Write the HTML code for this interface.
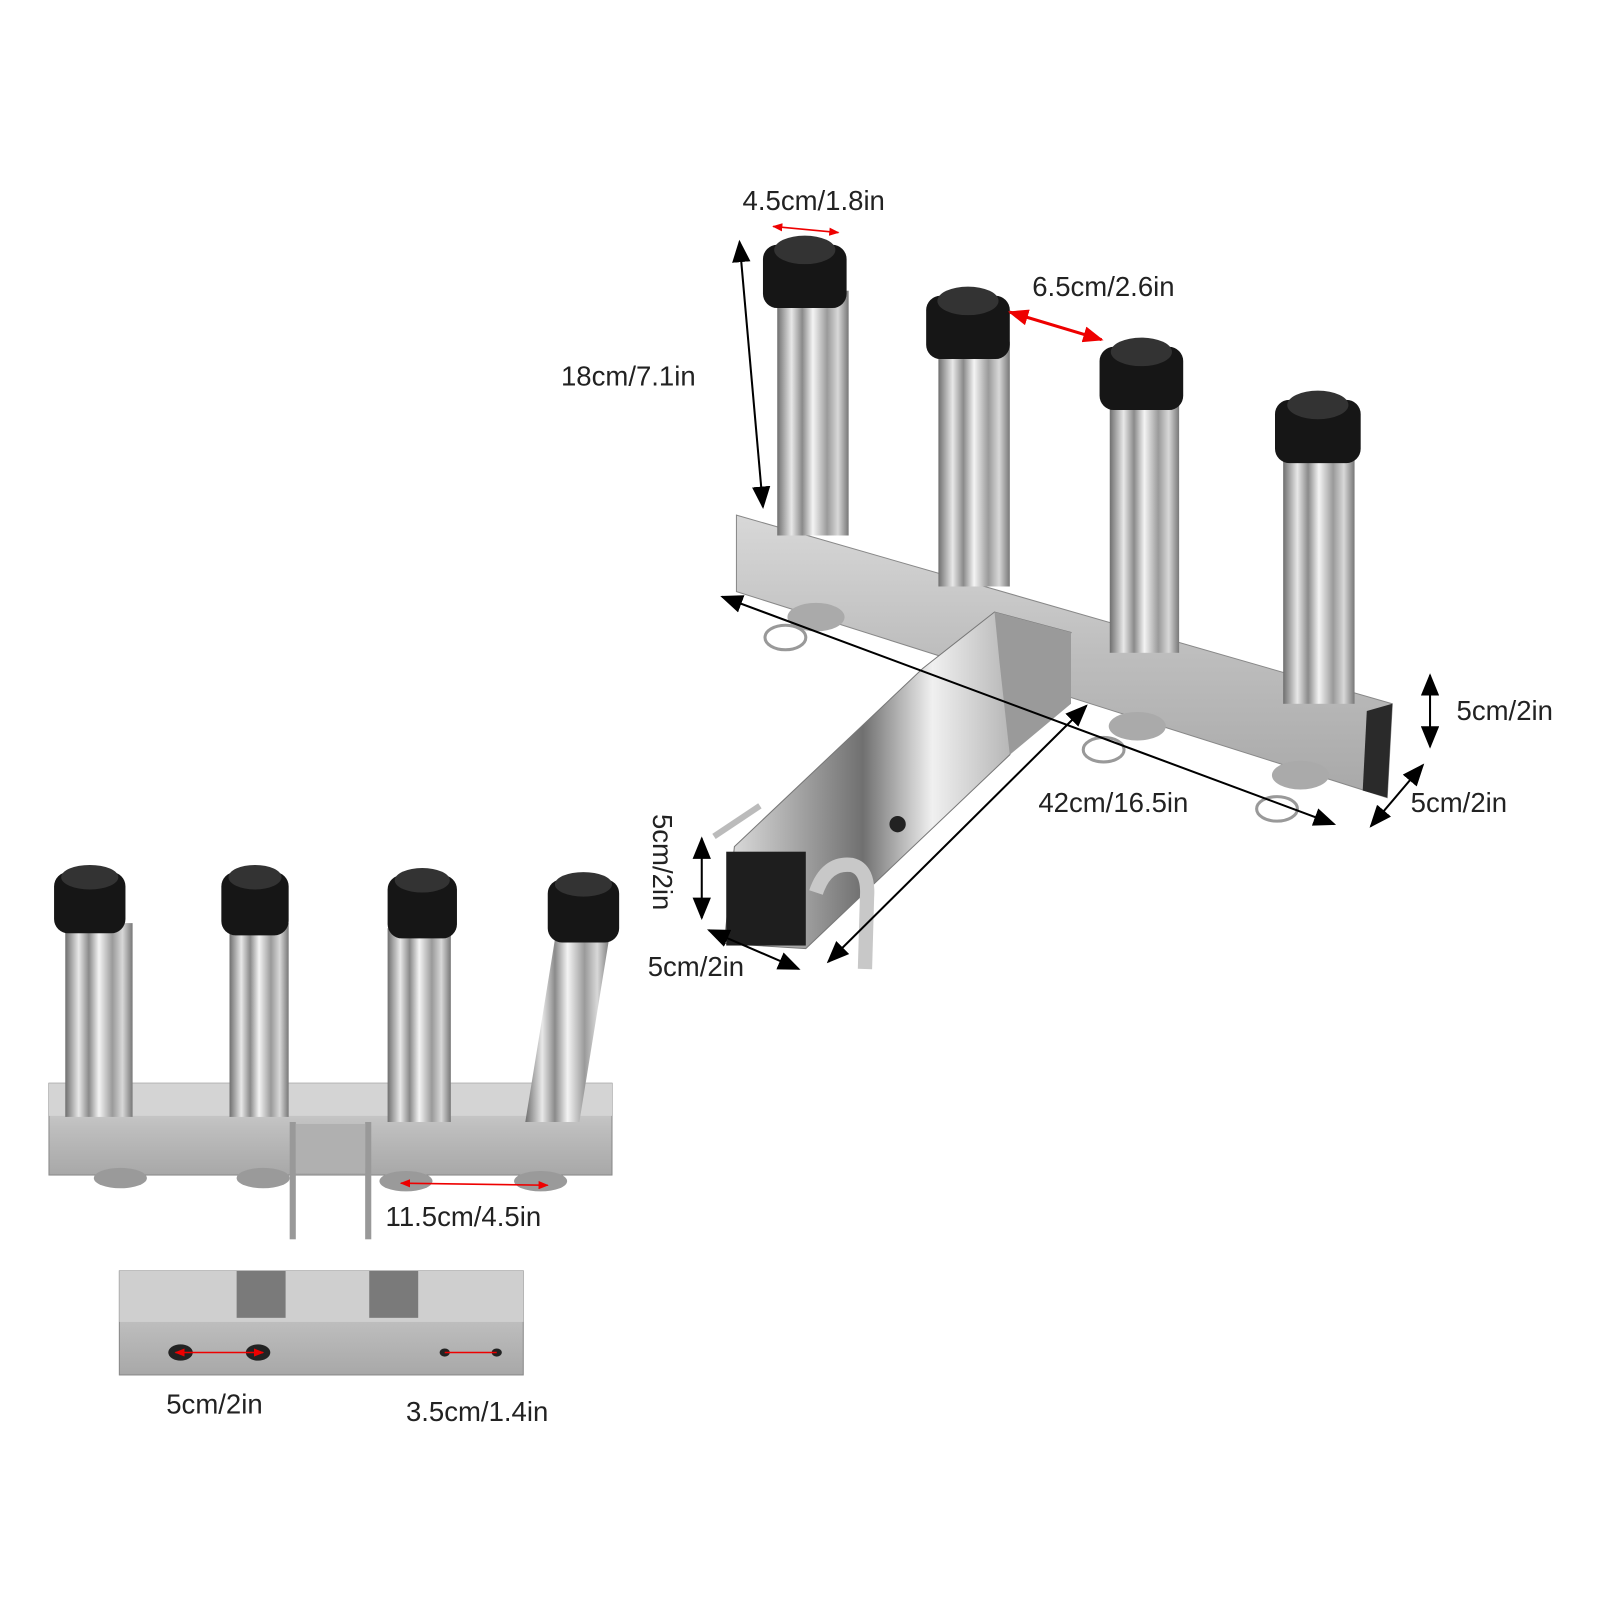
<!DOCTYPE html>
<html><head><meta charset="utf-8"><style>
html,body{margin:0;padding:0;background:#fff}
svg{display:block}
text{font-family:"Liberation Sans",sans-serif;font-size:27px;fill:#222}
</style></head><body>
<svg width="1601" height="1601" viewBox="0 0 1601 1601" xmlns="http://www.w3.org/2000/svg">
<defs>
<linearGradient id="tube" x1="0" x2="1" y1="0" y2="0">
<stop offset="0" stop-color="#6f6f6f"/><stop offset="0.2" stop-color="#e8e8e8"/><stop offset="0.35" stop-color="#8a8a8a"/><stop offset="0.5" stop-color="#f4f4f4"/><stop offset="0.7" stop-color="#9a9a9a"/><stop offset="0.85" stop-color="#d8d8d8"/><stop offset="1" stop-color="#777"/>
</linearGradient>
<linearGradient id="bar" x1="0" x2="0" y1="0" y2="1">
<stop offset="0" stop-color="#d8d8d8"/><stop offset="0.5" stop-color="#bdbdbd"/><stop offset="1" stop-color="#a8a8a8"/>
</linearGradient>
<linearGradient id="hitch" x1="0" x2="1" y1="0" y2="0">
<stop offset="0" stop-color="#e0e0e0"/><stop offset="0.4" stop-color="#707070"/><stop offset="0.6" stop-color="#f0f0f0"/><stop offset="1" stop-color="#8a8a8a"/>
</linearGradient>
<marker id="abig" markerWidth="22" markerHeight="18" refX="20" refY="9" orient="auto-start-reverse" markerUnits="userSpaceOnUse"><path d="M0,0 L22,9 L0,18z" fill="#000"/></marker>
<marker id="ar" markerWidth="20" markerHeight="16" refX="18" refY="8" orient="auto-start-reverse" markerUnits="userSpaceOnUse"><path d="M0,0 L20,8 L0,16z" fill="#e00"/></marker>
<marker id="ars" markerWidth="10" markerHeight="8" refX="9" refY="4" orient="auto-start-reverse" markerUnits="userSpaceOnUse"><path d="M0,0 L10,4 L0,8z" fill="#e00"/></marker>
</defs>
<g transform="scale(1.02)">
<polygon points="722,505 1365,690 1360,782 722,580" fill="url(#bar)" stroke="#888"/>
<polygon points="1340,697 1365,690 1360,782 1336,775" fill="#2a2a2a"/>
<ellipse cx="800" cy="605" rx="28" ry="14" fill="#aaa"/>
<ellipse cx="1115" cy="712" rx="28" ry="14" fill="#aaa"/>
<ellipse cx="1275" cy="760" rx="28" ry="14" fill="#aaa"/>
<g fill="none" stroke="#999" stroke-width="3">
<ellipse cx="770" cy="625" rx="20" ry="12"/><ellipse cx="1082" cy="735" rx="20" ry="12"/><ellipse cx="1252" cy="793" rx="20" ry="12"/>
</g>
<rect x="762" y="285" width="70" height="240" fill="url(#tube)"/>
<rect x="920" y="335" width="70" height="240" fill="url(#tube)"/>
<rect x="1088" y="385" width="68" height="255" fill="url(#tube)"/>
<rect x="1258" y="435" width="70" height="255" fill="url(#tube)"/>
<g fill="#161616">
<rect x="748" y="240" width="82" height="62" rx="14"/><rect x="908" y="290" width="82" height="62" rx="14"/>
<rect x="1078" y="340" width="82" height="62" rx="14"/><rect x="1250" y="392" width="84" height="62" rx="14"/>
</g>
<g fill="#333"><ellipse cx="789" cy="245" rx="30" ry="14"/><ellipse cx="949" cy="295" rx="30" ry="14"/><ellipse cx="1119" cy="345" rx="30" ry="14"/><ellipse cx="1292" cy="397" rx="30" ry="14"/></g>
<polygon points="905,655 975,600 1050,620 990,740 790,930 710,925 720,830" fill="url(#hitch)" stroke="#777"/>
<polygon points="975,600 1050,620 1050,690 990,740 980,650" fill="#9a9a9a"/>
<rect x="712" y="835" width="78" height="92" fill="#1e1e1e"/>
<circle cx="880" cy="808" r="8" fill="#222"/>
<path d="M800,875 Q810,845 835,848 Q852,852 850,880 L848,950" fill="none" stroke="#c8c8c8" stroke-width="14"/>
<path d="M700,820 L745,790" stroke="#bbb" stroke-width="6"/>

<line x1="758" y1="222" x2="822" y2="228" stroke="#e00" stroke-width="1.5" marker-start="url(#ars)" marker-end="url(#ars)"/>
<line x1="990" y1="306" x2="1080" y2="333" stroke="#e00" stroke-width="3" marker-start="url(#ar)" marker-end="url(#ar)"/>
<line x1="725" y1="237" x2="748" y2="497" stroke="#000" stroke-width="2" marker-start="url(#abig)" marker-end="url(#abig)"/>
<line x1="708" y1="585" x2="1308" y2="808" stroke="#000" stroke-width="2" marker-start="url(#abig)" marker-end="url(#abig)"/>
<line x1="812" y1="943" x2="1065" y2="692" stroke="#000" stroke-width="2" marker-start="url(#abig)" marker-end="url(#abig)"/>
<line x1="1402" y1="662" x2="1402" y2="732" stroke="#000" stroke-width="2" marker-start="url(#abig)" marker-end="url(#abig)"/>
<line x1="1344" y1="810" x2="1395" y2="750" stroke="#000" stroke-width="2" marker-start="url(#abig)" marker-end="url(#abig)"/>
<line x1="688" y1="822" x2="688" y2="900" stroke="#000" stroke-width="2" marker-start="url(#abig)" marker-end="url(#abig)"/>
<line x1="695" y1="912" x2="783" y2="950" stroke="#000" stroke-width="2" marker-start="url(#abig)" marker-end="url(#abig)"/>

<text x="728" y="206">4.5cm/1.8in</text>
<text x="1012" y="290">6.5cm/2.6in</text>
<text x="550" y="378">18cm/7.1in</text>
<text x="1428" y="706">5cm/2in</text>
<text x="1018" y="796">42cm/16.5in</text>
<text x="1383" y="796">5cm/2in</text>
<text x="635" y="957">5cm/2in</text>
<text transform="translate(640,798) rotate(90)">5cm/2in</text>

<rect x="48" y="1062" width="552" height="90" fill="url(#bar)" stroke="#888"/>
<rect x="48" y="1062" width="552" height="32" fill="#d4d4d4"/>
<g fill="#9a9a9a"><ellipse cx="118" cy="1155" rx="26" ry="10"/><ellipse cx="258" cy="1155" rx="26" ry="10"/><ellipse cx="398" cy="1158" rx="26" ry="10"/><ellipse cx="530" cy="1158" rx="26" ry="10"/></g>
<rect x="284" y="1100" width="6" height="115" fill="#999"/>
<rect x="358" y="1100" width="6" height="115" fill="#999"/>
<rect x="290" y="1102" width="68" height="48" fill="#b0b0b0"/>
<rect x="64" y="905" width="66" height="190" fill="url(#tube)"/>
<rect x="225" y="905" width="58" height="190" fill="url(#tube)"/>
<rect x="380" y="910" width="62" height="190" fill="url(#tube)"/>
<polygon points="545,915 598,915 568,1100 515,1100" fill="url(#tube)"/>
<g fill="#161616">
<rect x="53" y="855" width="70" height="60" rx="14"/><rect x="217" y="855" width="66" height="62" rx="14"/>
<rect x="380" y="858" width="68" height="62" rx="14"/><rect x="537" y="862" width="70" height="62" rx="14"/>
</g>
<g fill="#333"><ellipse cx="88" cy="860" rx="28" ry="12"/><ellipse cx="250" cy="860" rx="26" ry="12"/><ellipse cx="414" cy="863" rx="27" ry="12"/><ellipse cx="572" cy="867" rx="28" ry="12"/></g>
<line x1="393" y1="1160" x2="537" y2="1162" stroke="#e00" stroke-width="1.5" marker-start="url(#ars)" marker-end="url(#ars)"/>
<text x="378" y="1202">11.5cm/4.5in</text>

<rect x="117" y="1246" width="396" height="102" fill="url(#bar)" stroke="#888"/>
<rect x="117" y="1246" width="396" height="50" fill="#cfcfcf"/>
<g fill="#7a7a7a"><rect x="232" y="1246" width="48" height="46"/><rect x="362" y="1246" width="48" height="46"/></g>
<g fill="#222"><ellipse cx="177" cy="1326" rx="12" ry="8"/><ellipse cx="253" cy="1326" rx="12" ry="8"/><ellipse cx="436" cy="1326" rx="5" ry="4"/><ellipse cx="487" cy="1326" rx="5" ry="4"/></g>
<line x1="172" y1="1326" x2="258" y2="1326" stroke="#e00" stroke-width="1.5" marker-start="url(#ars)" marker-end="url(#ars)"/>
<line x1="436" y1="1326" x2="487" y2="1326" stroke="#e00" stroke-width="1.5"/>
<text x="163" y="1386">5cm/2in</text>
<text x="398" y="1393">3.5cm/1.4in</text>
</g>
</svg>
</body></html>
